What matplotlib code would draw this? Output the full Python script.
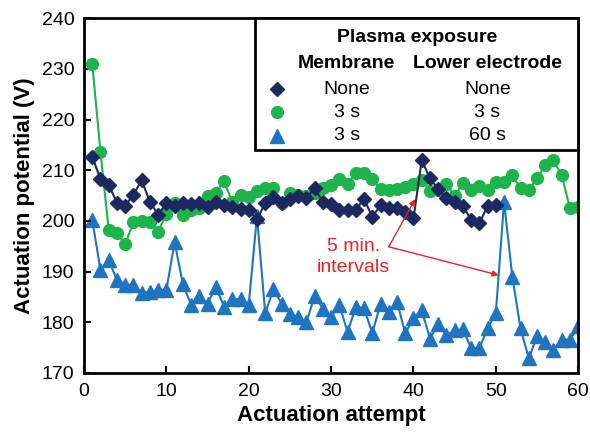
import matplotlib
matplotlib.use('Agg')
import matplotlib.pyplot as plt
import numpy as np
from matplotlib.patches import Rectangle

plt.rcParams['font.family'] = ['Liberation Sans', 'DejaVu Sans']

# Data
attempt_none = np.arange(1, 51)
attempt_3s = np.arange(1, 61)

v_none = [212.7, 208.2, 207.1, 203.6, 203.0, 205.2, 208.0, 203.8, 201.2, 203.5,
          203.0, 203.5, 203.3, 203.5, 202.8, 203.8, 203.1, 202.8, 202.3, 202.1,
          200.3, 203.5, 204.8, 203.5, 204.3, 205.0, 204.5, 206.4, 203.8, 203.3,
          202.2, 202.2, 202.2, 204.3, 200.8, 203.1, 202.5, 202.5, 201.8, 200.5,
          212.0, 208.4, 206.3, 204.5, 203.8, 203.0, 200.2, 199.5, 203.0, 203.1]

v_3s_3s = [231.0, 213.6, 198.2, 197.6, 195.4, 199.8, 199.9, 199.8, 197.9, 201.4,
           203.5, 201.1, 202.2, 202.6, 205.0, 205.6, 207.8, 203.8, 205.1, 204.7,
           205.9, 206.5, 206.5, 203.5, 205.6, 205.2, 205.0, 205.5, 206.4, 207.1,
           208.3, 207.3, 209.5, 209.4, 208.3, 206.3, 206.1, 206.3, 206.6, 207.3,
           208.1, 206.0, 206.2, 207.2, 204.9, 207.4, 206.1, 206.8, 206.2, 207.6,
           207.7, 209.0, 206.4, 206.1, 208.4, 211.0, 212.0, 209.0, 202.5, 202.8]

v_3s_60s = [200.2, 190.3, 192.3, 188.3, 187.4, 187.4, 185.8, 186.0, 186.3, 186.4,
            195.8, 187.6, 183.4, 185.1, 183.7, 187.0, 183.1, 184.6, 184.6, 183.5,
            201.0, 181.8, 186.5, 183.7, 181.6, 181.1, 180.0, 185.2, 182.7, 181.1,
            183.4, 178.1, 183.0, 182.8, 177.8, 183.7, 182.1, 184.1, 177.8, 180.8,
            182.4, 176.8, 179.6, 177.4, 178.4, 178.6, 174.9, 174.9, 178.8, 181.8,
            203.8, 189.0, 178.8, 172.9, 177.2, 176.2, 174.6, 176.5, 176.6, 179.2]

c_navy = '#1c2860'
c_green = '#1db44c'
c_blue = '#1f74c0'
c_red = '#ee2020'

fig = plt.figure(figsize=(5.9, 4.33), dpi=100)
ax = fig.add_axes([0.1424, 0.1386, 0.8376, 0.8194])

ax.plot(attempt_none, v_none, color=c_navy, marker='D', markersize=7, lw=1.5, zorder=3)
ax.plot(attempt_3s, v_3s_3s, color=c_green, marker='o', markersize=8.5, lw=1.5, zorder=2)
ax.plot(attempt_3s, v_3s_60s, color=c_blue, marker='^', markersize=9.5, lw=1.5, zorder=1)

ax.set_xlim(0, 60)
ax.set_ylim(170, 240)
ax.set_xticks(range(0, 61, 10))
ax.set_yticks(range(170, 241, 10))
ax.tick_params(direction='in', length=5, width=1.5, labelsize=14, pad=7)
for s in ax.spines.values():
    s.set_linewidth(2)

ax.set_xlabel('Actuation attempt', fontsize=16, fontweight='bold', labelpad=4)
ax.set_ylabel('Actuation potential (V)', fontsize=16, fontweight='bold', labelpad=5)

# annotation
ax.text(32.7, 192.8, '5 min.\nintervals', color=c_red, fontsize=14,
        ha='center', va='center', linespacing=1.3)
for tip in [(40.2, 204.3), (50.35, 189.3)]:
    ax.annotate('', xy=tip, xytext=(37.0, 194.9),
                arrowprops=dict(arrowstyle='-|>', color=c_red, lw=1,
                                mutation_scale=9, shrinkA=0, shrinkB=0))

# legend box
ax.add_patch(Rectangle((0.346, 0.628), 0.654, 0.372, transform=ax.transAxes,
                       facecolor='white', edgecolor='black', lw=2, zorder=5,
                       clip_on=False))
ax.text(0.674, 0.946, 'Plasma exposure', transform=ax.transAxes, ha='center',
        va='center', fontsize=14, fontweight='bold', zorder=6)
ax.text(0.532, 0.873, 'Membrane', transform=ax.transAxes, ha='center',
        va='center', fontsize=14, fontweight='bold', zorder=6)
ax.text(0.816, 0.873, 'Lower electrode', transform=ax.transAxes, ha='center',
        va='center', fontsize=14, fontweight='bold', zorder=6)
rows = [(0.800, 'D', c_navy, 7, 'None', 'None'),
        (0.735, 'o', c_green, 8.5, '3 s', '3 s'),
        (0.668, '^', c_blue, 9.5, '3 s', '60 s')]
for y, m, c, ms, t1, t2 in rows:
    ax.plot([0.391], [y], marker=m, color=c, markersize=ms, transform=ax.transAxes,
            zorder=6, clip_on=False)
    ax.text(0.532, y, t1, transform=ax.transAxes, ha='center', va='center',
            fontsize=14, zorder=6)
    ax.text(0.816, y, t2, transform=ax.transAxes, ha='center', va='center',
            fontsize=14, zorder=6)

fig.savefig('out.png', dpi=100)
